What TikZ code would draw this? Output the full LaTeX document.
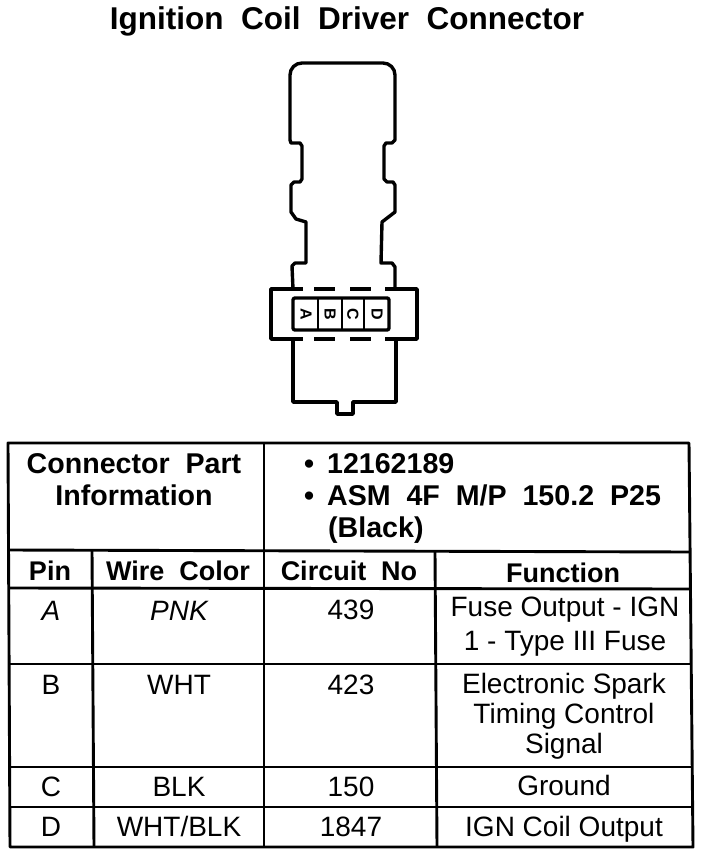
\documentclass[tikz,border=0pt]{standalone}
\usepackage{fontspec}
\setmainfont{Liberation Sans}
\tikzset{
  outline/.style={black,line width=3.4pt,line join=round},
  rule/.style={black,line width=2.9pt,line join=round},
  heading/.style={inner sep=0pt,anchor=base,font=\fontsize{27}{32}\selectfont\bfseries},
  partinfo/.style={inner sep=0pt,anchor=base,font=\fontsize{28.6}{34}\selectfont\bfseries},
  entry/.style={inner sep=0pt,anchor=base,font=\fontsize{28}{33}\selectfont},
  pinmark/.style={inner sep=0pt,rotate=-90,font=\fontsize{16}{18}\selectfont\bfseries}
}
\begin{document}
\begin{tikzpicture}[x=1pt,y=1pt]
\useasboundingbox (0,0) rectangle (704,-856);
\node [heading,font=\fontsize{31.5}{36}\selectfont\bfseries] (title) at (347,-30) {Ignition\ \ Coil\ \ Driver\ \ Connector};
% connector body
\draw [outline] (293,-289) -- (292,-266) -- (295,-263) -- (306,-263) -- (306,-222) -- (296,-219) -- (291,-212) -- (291,-185) -- (294,-182) -- (300,-182) -- (302,-179) -- (302,-146) -- (300,-143) -- (291,-143) -- (290,-140) -- (290,-75) arc (180:90:12) -- (383,-63) arc (90:0:12) -- (395,-140) -- (392,-143) -- (386,-143) -- (384,-146) -- (384,-179) -- (387,-182) -- (393,-182) -- (395,-185) -- (395,-212) -- (382,-222) -- (381,-263) -- (392,-263) -- (395,-267) -- (395,-289);
% flange
\draw [outline] (303,-289) -- (271,-289) -- (271,-339) -- (303,-339);
\draw [outline] (385,-289) -- (417,-289) -- (417,-339) -- (385,-339);
\foreach \dashx in {314,350} {
  \draw [outline] (\dashx,-289) -- ++(21,0);
  \draw [outline] (\dashx,-339) -- ++(21,0);
}
% pin block
\draw [outline,rounded corners=2pt] (293,-298) rectangle (389,-330);
\foreach \divx in {318,342,364}
  \draw [outline,line width=2.6pt] (\divx,-298) -- (\divx,-330);
\node [pinmark] (markA) at (306,-314) {A};
\node [pinmark] (markB) at (330,-314) {B};
\node [pinmark] (markC) at (353,-314) {C};
\node [pinmark] (markD) at (377,-314) {D};
% lower body
\draw [outline] (293,-339) -- (293,-402) -- (337,-402) -- (337,-414) -- (353,-414) -- (353,-402) -- (396,-402) -- (396,-339);
% table
\draw [rule] (8,-443) -- (689,-443) -- (693,-847) -- (10,-847) -- cycle;
\draw [rule] (8,-550) -- (690,-552);
\draw [rule] (9,-588) -- (691,-589);
\draw [rule] (9,-664) -- (692,-664);
\draw [rule] (10,-767) -- (693,-767);
\draw [rule] (10,-807) -- (693,-807);
\draw [rule] (264,-443) -- (264,-847);
\draw [rule] (92,-550) -- (94,-847);
\draw [rule] (435,-552) -- (437,-847);
\node [partinfo] (partA) at (134,-473) {Connector\ \ Part};
\node [partinfo] (partB) at (134,-505) {Information};
\node [partinfo,anchor=base west] (numA) at (304,-473) {•\hspace{5pt} 12162189};
\node [partinfo,anchor=base west] (numB) at (304,-505) {•\hspace{5pt} ASM\ \ 4F\ \ M/P\ \ 150.2\ \ P25};
\node [partinfo,anchor=base west] (numC) at (328,-537) {(Black)};
\node [heading] (headpin) at (50,-580) {Pin};
\node [heading] (headwire) at (178,-580) {Wire\ \ Color};
\node [heading] (headcircuit) at (349,-580) {Circuit\ \ No};
\node [heading] (headfunc) at (563,-582) {Function};
\node [entry] (pinA) at (51,-620) {\itshape A};
\node [entry] (wireA) at (179,-620) {\itshape PNK};
\node [entry] (circA) at (351,-619) {439};
\node [entry] (funcA) at (565,-616) {Fuse Output - IGN};
\node [entry] (funcAb) at (565,-650) {1 - Type III Fuse};
\node [entry] (pinB) at (51,-694) {B};
\node [entry] (wireB) at (179,-694) {WHT};
\node [entry] (circB) at (351,-694) {423};
\node [entry] (funcB) at (564,-693) {Electronic Spark};
\node [entry] (funcBb) at (564,-723) {Timing Control};
\node [entry] (funcBc) at (564,-753) {Signal};
\node [entry] (pinC) at (51,-796) {C};
\node [entry] (wireC) at (179,-796) {BLK};
\node [entry] (circC) at (351,-796) {150};
\node [entry] (funcC) at (564,-795) {Ground};
\node [entry] (pinD) at (51,-836) {D};
\node [entry] (wireD) at (179,-836) {WHT/BLK};
\node [entry] (circD) at (351,-836) {1847};
\node [entry] (funcD) at (564,-836) {IGN Coil Output};
\end{tikzpicture}
\end{document}
